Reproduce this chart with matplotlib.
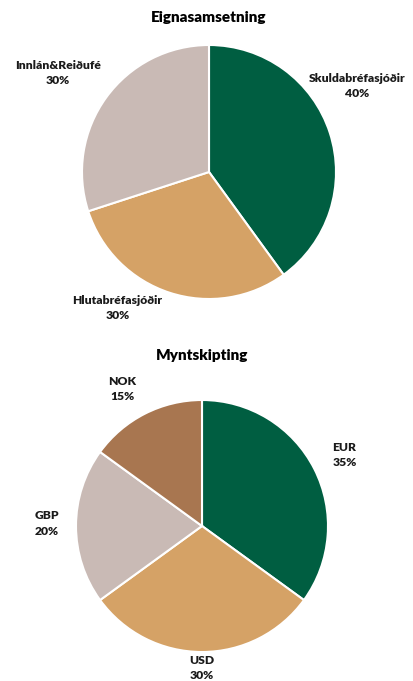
import matplotlib.pyplot as plt

W, H = 413, 681

# Eignasamsetning
asset_labels = ['Skuldabréfasjóðir', 'Hlutabréfasjóðir', 'Innlán&Reiðufé']
asset_values = [40, 30, 30]
asset_colors = ['#005E41', '#D5A266', '#C9BAB5']

# Myntskipting
curr_labels = ['EUR', 'USD', 'GBP', 'NOK']
curr_values = [35, 30, 20, 15]
curr_colors = ['#005E41', '#D5A266', '#C9BAB5', '#A87650']

# label placement (x, y in pie radius units)
asset_pos = [(1.17, 0.68), (-0.72, -1.07), (-1.19, 0.78)]
curr_pos = [(1.13, 0.56), (0.0, -1.13), (-1.23, 0.02), (-0.63, 1.09)]

plt.rcParams['font.family'] = ['Lato', 'DejaVu Sans']
fig = plt.figure(figsize=(W / 100, H / 100), dpi=100)


def pie_axes(cx, cy, r):
    ax = fig.add_axes([(cx - r) / W, (H - cy - r) / H, 2 * r / W, 2 * r / H])
    return ax


def draw(ax, labels, values, colors, pos, title, title_y):
    ax.pie(values, colors=colors, startangle=90, counterclock=False,
           wedgeprops=dict(edgecolor='white', linewidth=1.5))
    ax.set_xlim(-1, 1)
    ax.set_ylim(-1, 1)
    for lab, v, (x, y) in zip(labels, values, pos):
        ax.text(x, y, f'{lab}\n{v}%', ha='center', va='center', fontsize=8.7,
                fontweight='heavy', color='#1a1a1a', linespacing=1.45, clip_on=False)
    ax.text(0, title_y, title, ha='center', va='center', fontsize=11,
            fontweight='heavy', color='#000000', clip_on=False)


ax1 = pie_axes(209, 172, 127)
draw(ax1, asset_labels, asset_values, asset_colors, asset_pos, 'Eignasamsetning', 1.22)

ax2 = pie_axes(202, 526, 126)
draw(ax2, curr_labels, curr_values, curr_colors, curr_pos, 'Myntskipting', 1.35)

fig.savefig('out.png', dpi=100)
